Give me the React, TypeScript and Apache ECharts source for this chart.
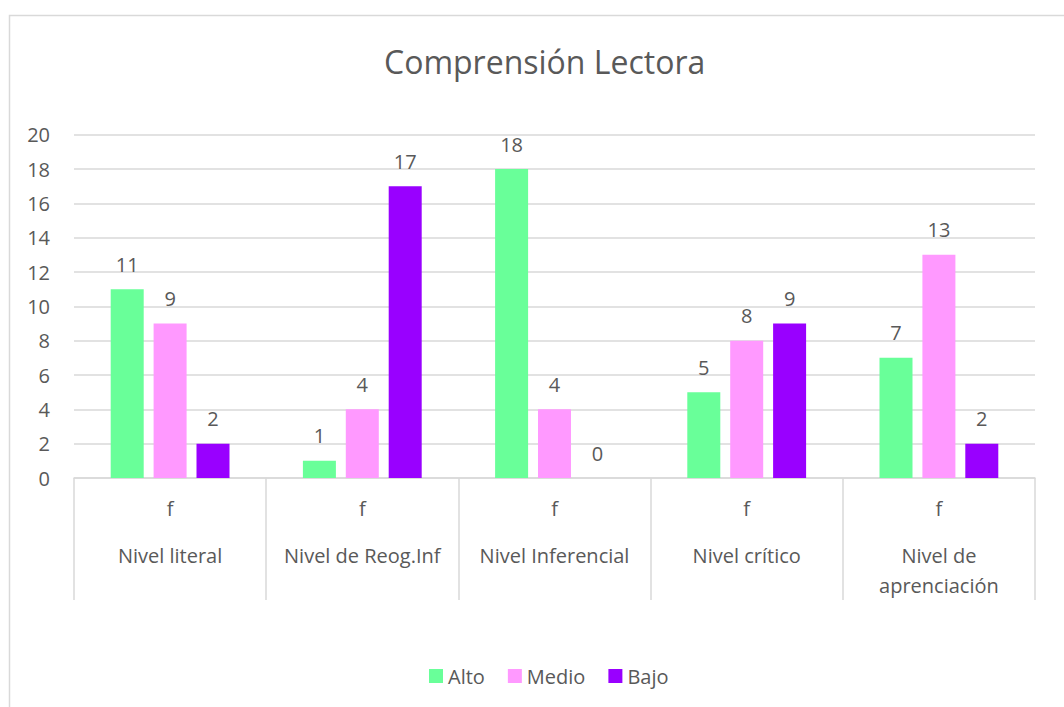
import React, { useEffect, useRef } from "react";
import * as echarts from "echarts";

const categories = ["Nivel literal", "Nivel de Reog.Inf", "Nivel Inferencial", "Nivel crítico", "Nivel de\naprenciación"];
const subLabel = "f";
const alto = [11, 1, 18, 5, 7];
const medio = [9, 4, 4, 8, 13];
const bajo = [2, 17, 0, 9, 2];
const seriesNames = ["Alto", "Medio", "Bajo"];
const colors = ["#69FF99", "#FF99FF", "#9900FF"];
const yTicks = { min: 0, max: 20, interval: 2 };

const FONT = "'Open Sans', 'Noto Sans', sans-serif";
const TXT = "#595959";
const FS = 20;

export default function App() {
  const ref = useRef<HTMLDivElement>(null);
  useEffect(() => {
    if (!ref.current) return;
    const chart = echarts.init(ref.current, null, { renderer: "svg" });
    const label = {
      show: true,
      position: "top",
      distance: 15,
      color: TXT,
      fontSize: FS,
      fontFamily: FONT,
    };
    const mk = (name: string, data: number[], color: string) => ({
      name,
      type: "bar",
      data,
      barWidth: 33,
      barGap: "30%",
      itemStyle: { color },
      label,
    });
    chart.setOption({
      animation: false,
      textStyle: { fontFamily: FONT },
      title: {
        text: "Comprensión Lectora",
        left: 379,
        top: 40,
        textStyle: { color: TXT, fontSize: 32, fontWeight: "normal", fontFamily: FONT },
      },
      graphic: [
        {
          type: "rect",
          shape: { x: 9.5, y: 15.5, width: 1200, height: 900 },
          style: { fill: "none", stroke: "#D9D9D9", lineWidth: 1.5 },
          silent: true,
        },
      ],
      legend: {
        data: seriesNames,
        left: 424,
        top: 661,
        itemWidth: 14,
        itemHeight: 14,
        itemGap: 23,
        icon: "rect",
        textStyle: { color: TXT, fontSize: FS, fontFamily: FONT },
      },
      grid: { left: 74, right: 29, top: 134.7, bottom: 229 },
      xAxis: {
        type: "category",
        data: categories,
        axisLine: { lineStyle: { color: "#D9D9D9", width: 1.5 } },
        axisTick: { show: true, length: 122, lineStyle: { color: "#D9D9D9", width: 1.5 } },
        axisLabel: {
          margin: -2,
          interval: 0,
          formatter: (v: string) => `{f|${subLabel}}\n{n|${v.split("\n").join("}\n{n|")}}`,
          rich: {
            f: { lineHeight: 64, fontSize: FS, color: TXT, fontFamily: FONT },
            n: { lineHeight: 30, fontSize: FS, color: TXT, fontFamily: FONT },
          },
        },
      },
      yAxis: {
        type: "value",
        min: yTicks.min,
        max: yTicks.max,
        interval: yTicks.interval,
        axisLine: { show: false },
        axisTick: { show: false },
        axisLabel: { color: TXT, fontSize: FS, fontFamily: FONT, margin: 24 },
        splitLine: { lineStyle: { color: "#D9D9D9", width: 1.5 } },
      },
      series: [
        mk(seriesNames[0], alto, colors[0]),
        mk(seriesNames[1], medio, colors[1]),
        mk(seriesNames[2], bajo, colors[2]),
      ],
    });
    return () => chart.dispose();
  }, []);
  return <div ref={ref} style={{ width: 1064, height: 707, position: "absolute", left: 0, top: 0 }} />;
}
